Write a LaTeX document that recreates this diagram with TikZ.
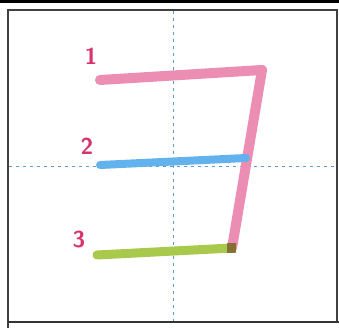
\documentclass[tikz,border=0pt]{standalone}
\usepackage{xcolor}
\usepackage{tikz}
\usetikzlibrary{positioning}

\definecolor{strokepink}{HTML}{EC8DB4}
\definecolor{strokeblue}{HTML}{62B2EE}
\definecolor{strokegreen}{HTML}{A9C94C}
\definecolor{numred}{HTML}{D8346A}
\definecolor{guideblue}{HTML}{5E9AD8}

\begin{document}
\begin{tikzpicture}[
    x=1pt, y=-1pt,
    stroke/.style={line width=9pt, line cap=round, line join=round},
    guide/.style={guideblue, dash pattern=on 3pt off 4pt, line width=1pt},
    num/.style={text=numred, font=\sffamily\bfseries\fontsize{23}{23}\selectfont, inner sep=0pt}
]
\useasboundingbox (0,0) rectangle (339,328);
% frame
\fill[white] (0,0) rectangle (339,328);
\draw[line width=3pt] (0,1.5) -- (339,1.5);
\draw[black!75, line width=1.6pt] (8,328) -- (8,10) -- (337,10) -- (337,322);
\draw[black!80, line width=1.8pt] (8,322) -- (339,322);
% guide lines
\coordinate (gtop) at (173,11);
\coordinate (gbot) at (173,321);
\coordinate (gleft) at (9,167);
\coordinate (gright) at (336,167);
\draw[guide] (gtop) -- (gbot);
\draw[guide] (gleft) -- (gright);
% strokes
\coordinate (s1a) at (100,80);
\coordinate (s1b) at (262,70);
\coordinate (s1c) at (232,248);
\coordinate (s2a) at (100,165);
\coordinate (s2b) at (246,158);
\coordinate (s3a) at (97,255);
\coordinate (s3b) at (232,248);
\draw[stroke, strokepink, line width=10pt] (s1a) -- (s1b) -- (s1c);
\draw[stroke, strokeblue, line width=8pt] (s2a) -- (s2b);
\draw[stroke, strokegreen] (s3a) -- (s3b);
\fill[brown!60!black, opacity=0.7] (227,243) rectangle (236,253);
% numbers
\node[num] (n1) at (91,56) {1};
\node[num] (n2) at (87,146) {2};
\node[num] (n3) at (79,240) {3};
\end{tikzpicture}
\end{document}
